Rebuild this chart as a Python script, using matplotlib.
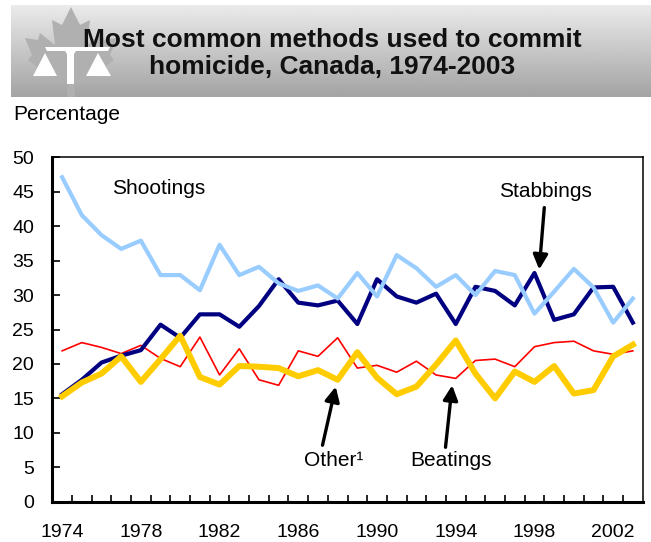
import matplotlib
matplotlib.use("Agg")
import matplotlib.pyplot as plt
import numpy as np
from matplotlib.patches import Polygon, Rectangle

plt.rcParams['font.family'] = ['Liberation Sans', 'DejaVu Sans']

years = list(range(1974, 2004))
shootings = [47.1, 41.6, 38.7, 36.7, 37.9, 32.9, 32.9, 30.7, 37.3, 32.9,
             34.1, 31.7, 30.6, 31.4, 29.5, 33.2, 29.8, 35.8, 33.9, 31.2,
             32.9, 30.0, 33.5, 32.9, 27.3, 30.5, 33.8, 31.1, 26.0, 29.5]
stabbings = [15.6, 17.7, 20.2, 21.2, 22.0, 25.7, 23.8, 27.2, 27.2, 25.4,
             28.4, 32.3, 28.9, 28.5, 29.2, 25.8, 32.3, 29.8, 28.9, 30.2,
             25.8, 31.2, 30.6, 28.5, 33.2, 26.4, 27.2, 31.1, 31.2, 26.0]
other = [21.9, 23.1, 22.4, 21.5, 22.7, 20.8, 19.6, 23.9, 18.4, 22.2,
         17.7, 16.9, 21.9, 21.1, 23.8, 19.4, 19.8, 18.8, 20.4, 18.4,
         17.9, 20.5, 20.7, 19.6, 22.5, 23.1, 23.3, 21.9, 21.4, 21.9]
beatings = [15.3, 17.3, 18.6, 21.1, 17.4, 20.7, 24.1, 18.1, 17.0, 19.7,
            19.6, 19.4, 18.2, 19.1, 17.7, 21.7, 18.0, 15.6, 16.7, 19.9,
            23.4, 18.6, 15.0, 18.9, 17.4, 19.7, 15.7, 16.2, 21.1, 22.8]
year_labels = [str(y) for y in years[::4]]

W, H = 651, 542
fig = plt.figure(figsize=(W / 100, H / 100), dpi=100)

# header banner in pixel coordinates
bg = fig.add_axes([0, 0, 1, 1])
bg.set_xlim(0, W)
bg.set_ylim(H, 0)
bg.axis('off')
grad = np.linspace(0.92, 0.64, 100).reshape(-1, 1)
bg.imshow(grad, cmap='gray', vmin=0, vmax=1, aspect='auto',
          extent=(11, W, 97, 5), interpolation='bilinear')

# maple leaf + scales logo
leaf = [(71, 7), (80, 25), (90, 20), (87, 45), (102, 33), (104, 40), (117, 38),
        (110, 55), (114, 60), (95, 75), (98, 82), (74, 80), (75, 97), (67, 97),
        (68, 80), (44, 82), (47, 75), (28, 60), (32, 55), (25, 38), (38, 40),
        (40, 33), (55, 45), (52, 20), (62, 25)]
bg.add_patch(Polygon(leaf, closed=True, facecolor='#b0b0b0', edgecolor='none'))
bg.add_patch(Polygon([(45, 47), (110, 47), (108, 51), (76, 51), (74, 54),
                      (67, 54), (65, 51), (47, 51)], closed=True,
                     facecolor='white', edgecolor='none'))
bg.add_patch(Rectangle((67, 54), 7, 30, facecolor='white', edgecolor='none'))
bg.add_patch(Polygon([(45, 53), (33, 76), (57, 76)], closed=True,
                     facecolor='white', edgecolor='none'))
bg.add_patch(Polygon([(98, 53), (86, 76), (111, 76)], closed=True,
                     facecolor='white', edgecolor='none'))

bg.text(332, 47.3, "Most common methods used to commit", ha='center',
        va='baseline', fontsize=19, fontweight='bold', color='#111111')
bg.text(332, 74.3, "homicide, Canada, 1974-2003", ha='center',
        va='baseline', fontsize=19, fontweight='bold', color='#111111')
bg.text(13, 120, "Percentage", ha='left', va='baseline', fontsize=15)

# main chart
ax = fig.add_axes([52.3 / W, 1 - 501.7 / H, (642.7 - 52.3) / W, (501.7 - 157.3) / H])
ax.patch.set_alpha(0)
idx = np.arange(len(years))

ax.plot(idx, other, color='#ff0000', lw=1.2, zorder=2)
ax.plot(idx, stabbings, color='#000080', lw=3.0, zorder=3)
ax.plot(idx, shootings, color='#99ccff', lw=3.0, zorder=4)
ax.plot(idx, beatings, color='#ffcc00', lw=4.3, zorder=5)

ax.set_xlim(-0.5, len(years) - 0.5)
ax.set_ylim(0, 50)
ax.set_yticks(range(0, 51, 5))
ax.set_xticks(idx[::4], year_labels)
ax.set_xticks(np.arange(0.5, len(years) - 1, 1), minor=True)
ax.tick_params(axis='y', direction='in', length=6, width=1.2, labelsize=14, pad=13)
ax.tick_params(axis='x', which='major', length=0, labelsize=14, pad=16)
ax.tick_params(axis='x', which='minor', direction='in', length=5, width=1.2)

for s in ['left', 'bottom']:
    ax.spines[s].set_linewidth(2.2)
for s in ['top', 'right']:
    ax.spines[s].set_linewidth(1.1)

ax.text(4.9, 45.5, "Shootings", ha='center', va='center', fontsize=15)
ax.text(24.55, 45.1, "Stabbings", ha='center', va='center', fontsize=15)
ax.text(13.78, 6.05, "Other\u00b9", ha='center', va='center', fontsize=15)
ax.text(19.78, 6.05, "Beatings", ha='center', va='center', fontsize=15)

arrow = dict(arrowstyle='-|>', lw=2.4, color='black', mutation_scale=22,
             shrinkA=0, shrinkB=0)
ax.annotate('', xy=(24.24, stabbings[24] + 0.5), xytext=(24.5, 42.7), arrowprops=arrow)
ax.annotate('', xy=(13.9, beatings[14] - 1.0), xytext=(13.23, 8.2), arrowprops=arrow)
ax.annotate('', xy=(19.82, other[20] - 1.0), xytext=(19.48, 7.9), arrowprops=arrow)

fig.savefig("out.png", dpi=100)
